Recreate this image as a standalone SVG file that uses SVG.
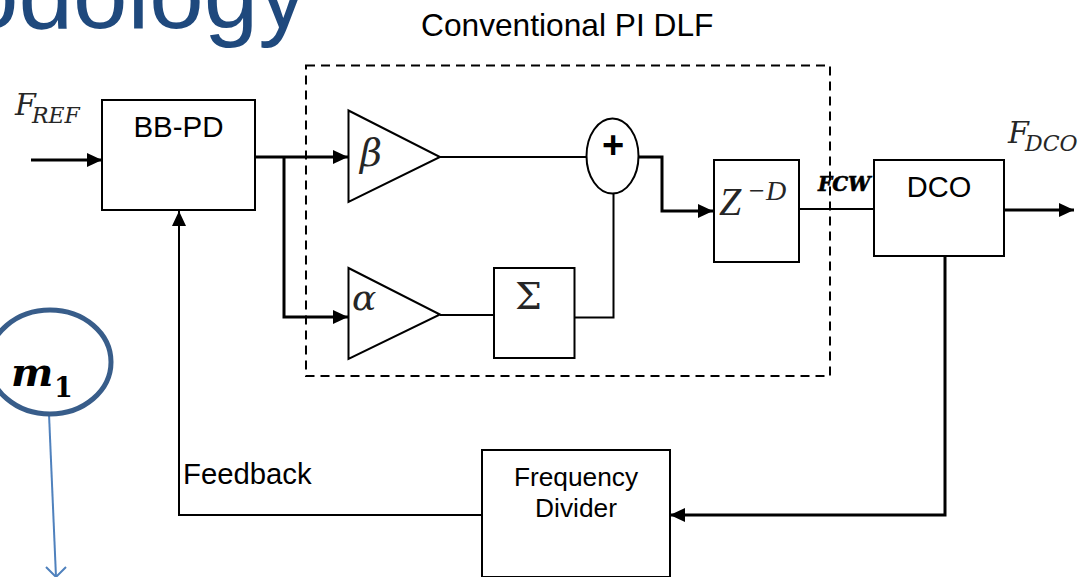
<svg xmlns="http://www.w3.org/2000/svg" width="1079" height="577" viewBox="0 0 1079 577">
<style>
.s{font-family:"Liberation Sans",Arial,sans-serif;fill:#000}
.m{font-family:"DejaVu Serif","Liberation Serif",serif;font-style:italic;fill:#262626}
.t{font-family:"Liberation Serif","DejaVu Serif",serif;font-style:italic;fill:#262626}
.b{fill:#fff;stroke:#000;stroke-width:2}
.c{fill:none;stroke:#000;stroke-width:2}
.h{fill:none;stroke:#000;stroke-width:3}
</style>
<defs>
<marker id="a" markerUnits="userSpaceOnUse" markerWidth="16" markerHeight="16" refX="15" refY="8" orient="auto"><path d="M0 1L15 8L0 15Z" fill="#000"/></marker>
</defs>
<rect width="1079" height="577" fill="#fff"/>
<text x="-36" y="28" class="s" style="font-size:98px;fill:#1f497d">odology</text>
<text x="421" y="36" class="s" font-size="31.700">Conventional PI DLF</text>
<g id="dlf"><rect x="306" y="65.500" width="524" height="310.500" fill="none" stroke="#000" stroke-width="2" stroke-dasharray="9 6"/></g>
<g id="connectors">
<path class="h" d="M31 160H102" marker-end="url(#a)"/>
<path class="h" d="M255 157H348" marker-end="url(#a)"/>
<path class="h" d="M284 157V317H348" marker-end="url(#a)"/>
<path class="c" d="M440 157H586"/>
<path class="c" d="M440 315H494"/>
<path class="c" d="M575 317.500H613.500V193"/>
<path class="h" d="M638 157H662V211H713" marker-end="url(#a)"/>
<path class="c" d="M799 209H874"/>
<path class="h" d="M1004 210H1074" marker-end="url(#a)"/>
<path class="h" d="M945 256V515H670" marker-end="url(#a)"/>
<path class="c" d="M482 515H179V211" marker-end="url(#a)"/>
<path d="M49 414L56 577" fill="none" stroke="#4f81bd" stroke-width="2"/>
<path d="M46 567L56 577L66 567" fill="none" stroke="#4f81bd" stroke-width="2"/>
</g>
<g id="bbpd"><rect class="b" x="102" y="100" width="153" height="110"/><text x="178.500" y="137" text-anchor="middle" class="s" font-size="29.500">BB-PD</text></g>
<g id="beta"><path class="b" d="M348.500 110.500L440 157L348.500 202Z"/><text x="360" y="166" class="m" font-size="38">β</text></g>
<g id="alpha"><path class="b" d="M348.500 268L440 314.500L348.500 359Z"/><text x="352" y="310" class="m" font-size="36">α</text></g>
<g id="sigma"><rect class="b" x="494" y="268" width="80.500" height="90"/><text x="515" y="309" class="m" font-size="38" style="font-style:normal">Σ</text></g>
<g id="sum"><ellipse class="b" cx="612.500" cy="156" rx="26" ry="37.500"/><text x="613" y="158" text-anchor="middle" class="s" font-size="38" font-weight="bold">+</text></g>
<g id="delay"><rect class="b" x="714" y="160" width="85" height="102"/><text x="719" y="215" class="t" font-size="40">Z</text><text x="747" y="200" class="t" font-size="28">−D</text></g>
<g id="dco"><rect class="b" x="874" y="160" width="130" height="96"/><text x="939" y="197" text-anchor="middle" class="s" font-size="29">DCO</text></g>
<g id="divider"><rect class="b" x="482" y="450" width="188" height="127"/><text x="576" y="486" text-anchor="middle" class="s" font-size="26.300">Frequency</text><text x="576" y="517" text-anchor="middle" class="s" font-size="26.300">Divider</text></g>
<g id="m1"><ellipse cx="50" cy="362" rx="61" ry="52" fill="#fff" stroke="#385d8a" stroke-width="5"/><text x="11" y="386" class="m" font-size="40" font-weight="bold" style="fill:#000">m</text><text x="54" y="397" class="m" font-size="27" font-weight="bold" style="fill:#000;font-style:normal">1</text></g>
<text x="15" y="115" class="m" font-size="30">F</text><text x="32" y="123" class="m" font-size="22">REF</text>
<text x="1008" y="143" class="m" font-size="30">F</text><text x="1025" y="151" class="m" font-size="22">DCO</text>
<text x="818" y="191" class="m" font-size="20" font-weight="bold" style="fill:#000;stroke:#000;stroke-width:.6">FCW</text>
<text x="183" y="484" class="s" font-size="29.300">Feedback</text>
</svg>
